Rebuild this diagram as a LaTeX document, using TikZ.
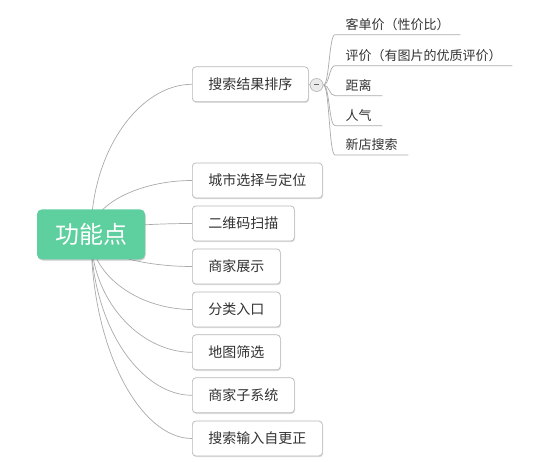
\documentclass[tikz,border=0pt]{standalone}
\usepackage{fontspec}
\newfontfamily\cjk{Noto Sans CJK SC}
\usetikzlibrary{calc,shadows,backgrounds}
\definecolor{rootgreen}{HTML}{5ECF9F}
\definecolor{linegray}{HTML}{AAAAAA}
\definecolor{boxgray}{HTML}{B8B8B8}
\definecolor{txtgray}{HTML}{333333}
\tikzset{
  rootbox/.style={draw=none, fill=rootgreen, rounded corners=5pt, minimum width=108pt, minimum height=50pt,
    text=white, font=\cjk\fontsize{24}{26}\selectfont,
    drop shadow={shadow xshift=0.6pt, shadow yshift=-1.2pt, opacity=0.35, fill=black!60}},
  topicbox/.style={draw=boxgray, fill=white, rounded corners=3.5pt, minimum height=35pt, inner xsep=16pt,
    anchor=west, text=txtgray, font=\cjk\fontsize{14}{16}\selectfont, line width=0.7pt,
    drop shadow={shadow xshift=0.8pt, shadow yshift=-1.2pt, opacity=0.25, fill=black!50}},
  leaf/.style={anchor=south west, minimum height=20pt, inner xsep=10.5pt, inner ysep=0pt,
    text=txtgray, font=\cjk\fontsize{13}{15}\selectfont},
  link/.style={draw=linegray, line width=0.7pt},
  collapse/.style={circle, draw=boxgray, fill=black!8, minimum size=13pt, inner sep=0pt, line width=0.7pt},
}
\newcommand\rootlink[1]{%
  \draw[link] (root.center) .. controls ($(root.center)!0.56!(root.center|-#1.west)$) and ($(#1.west)+(-52,0)$) .. (#1.west);}
\newcommand\leaflink[1]{%
  \draw[link] (col.east) .. controls ($(col.east)+(6,0)$) and ($(#1.south west)+(-6,0)$) .. (#1.south west) -- (#1.south east);}
\begin{document}
\begin{tikzpicture}[x=1pt,y=-1pt]
\useasboundingbox (0,0) rectangle (556,462);
\node[rootbox] (root) at (91,234.3) {功能点};
\node[topicbox] (t1) at (192,84.3) {搜索结果排序};
\node[topicbox] (t2) at (192,180.5) {城市选择与定位};
\node[topicbox] (t3) at (192,223.5) {二维码扫描};
\node[topicbox] (t4) at (192,266.5) {商家展示};
\node[topicbox] (t5) at (192,309.5) {分类入口};
\node[topicbox] (t6) at (192,352.3) {地图筛选};
\node[topicbox] (t7) at (192,395.3) {商家子系统};
\node[topicbox] (t8) at (192,438.5) {搜索输入自更正};
\node[collapse] (col) at (316.6,85) {};
\draw[line width=1pt, draw=black!60] ($(col.center)+(-2.5,0)$) -- ($(col.center)+(2.5,0)$);
\node[leaf] (l1) at (335,34.7) {客单价（性价比）};
\node[leaf] (l2) at (335,65.7) {评价（有图片的优质评价）};
\node[leaf] (l3) at (335,95.7) {距离};
\node[leaf] (l4) at (335,125.7) {人气};
\node[leaf] (l5) at (335,155) {新店搜索};
\begin{pgfonlayer}{background}
\foreach \t in {t1,t2,t3,t4,t5,t6,t7,t8} {\rootlink{\t}}
\draw[link] (t1.east) -- (col.west);
\foreach \l in {l1,l2,l3,l4,l5} {\leaflink{\l}}
\end{pgfonlayer}
\end{tikzpicture}
\end{document}
